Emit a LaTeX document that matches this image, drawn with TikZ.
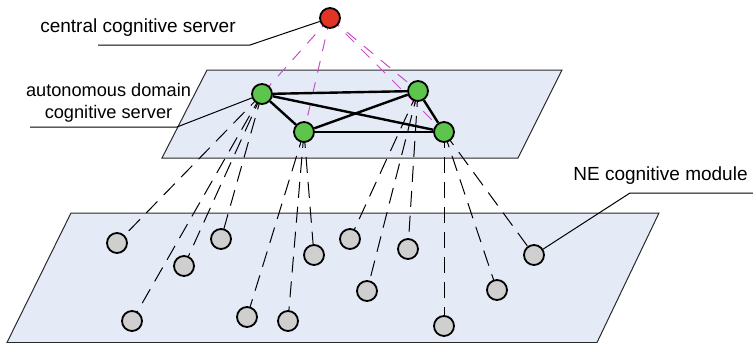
\documentclass[tikz,border=0pt]{standalone}
\usepackage{fontspec}
\setmainfont{Liberation Sans}
\pgfdeclarelayer{bg}
\pgfdeclarelayer{lines}
\pgfsetlayers{bg,lines,main}
\definecolor{planefill}{HTML}{E4EBF6}
\definecolor{planeedge}{HTML}{2A2A2A}
\definecolor{nodegreen}{HTML}{5DC44C}
\definecolor{nodered}{HTML}{E23424}
\definecolor{nodegray}{HTML}{CFCFCF}
\definecolor{linkmag}{HTML}{C94CC9}
\begin{document}
\begin{tikzpicture}[x=1pt,y=-1pt,
  plane/.style={fill=planefill,draw=planeedge,line width=1pt},
  srvbase/.style={circle,draw=black,line width=1.8pt,minimum size=20pt,inner sep=0pt},
  centralsrv/.style={srvbase,fill=nodered},
  domainsrv/.style={srvbase,fill=nodegreen},
  nemod/.style={srvbase,fill=nodegray},
  peer/.style={draw=black,line width=2.4pt},
  nelink/.style={draw=black,line width=1pt,dash pattern=on 16pt off 9pt},
  ctrllink/.style={draw=linkmag,line width=1pt,dash pattern=on 12pt off 10pt},
  leader/.style={draw=black,line width=1pt},
  lbl/.style={font=\fontsize{19}{22}\selectfont,inner sep=0pt,anchor=base}
]
\useasboundingbox (0,0) rectangle (753,343);

% planes
\begin{pgfonlayer}{bg}
\path[plane] (71,213) -- (659,213) -- (597,342.5) -- (7,342.5) -- cycle;
\path[plane] (207,70) -- (562,70) -- (518,158) -- (162,158) -- cycle;
\end{pgfonlayer}

% nodes
\node[centralsrv] (R) at (330,18) {};
\node[domainsrv] (A) at (262,94) {};
\node[domainsrv] (B) at (304,132) {};
\node[domainsrv] (C) at (418,91) {};
\node[domainsrv] (D) at (444,132) {};

\node[nemod] (g1) at (117,243) {};
\node[nemod] (g2) at (184,266) {};
\node[nemod] (g3) at (221,239) {};
\node[nemod] (g4) at (132,321) {};
\node[nemod] (g5) at (247,317) {};
\node[nemod] (g6) at (288,321) {};
\node[nemod] (g7) at (314,255) {};
\node[nemod] (g8) at (350,239) {};
\node[nemod] (g9) at (367,291) {};
\node[nemod] (g10) at (408,249) {};
\node[nemod] (g11) at (444,326) {};
\node[nemod] (g12) at (497,290) {};
\node[nemod] (g13) at (534,255) {};

% labels
\node[lbl] (lc) at (138,32) {central cognitive server};
\node[lbl,font=\fontsize{18.2}{22}\selectfont] (la1) at (108.5,96) {autonomous domain};
\node[lbl,font=\fontsize{18.2}{22}\selectfont] (la2) at (108.5,118) {cognitive server};
\node[lbl] (ln) at (660.5,180) {NE cognitive module};

\coordinate (lcA) at (98,45);
\coordinate (lcB) at (250,45);
\coordinate (laA) at (30,127);
\coordinate (laB) at (177,127);
\coordinate (lnA) at (753,193);
\coordinate (lnB) at (630,193);

\begin{pgfonlayer}{lines}
% control links
\foreach \t in {A,B,C,D} \draw[ctrllink] (R.center) -- (\t.center);
% NE links
\foreach \s/\t in {A/g1,A/g2,A/g3,A/g4,B/g5,B/g6,B/g7,C/g8,C/g9,C/g10,D/g11,D/g12,D/g13}
  \draw[nelink] (\s.center) -- (\t.center);
% peer links
\draw[peer] (A) -- (C);
\draw[peer] (A) -- (B);
\draw[peer] (A) -- (D);
\draw[peer] (B) -- (C);
\draw[peer] (B) -- (D);
\draw[peer] (C) -- (D);
% leaders
\draw[leader] (lcA) -- (lcB) -- (R);
\draw[leader] (laA) -- (laB) -- (A);
\draw[leader] (lnA) -- (lnB) -- (g13);
\end{pgfonlayer}
\end{tikzpicture}
\end{document}
